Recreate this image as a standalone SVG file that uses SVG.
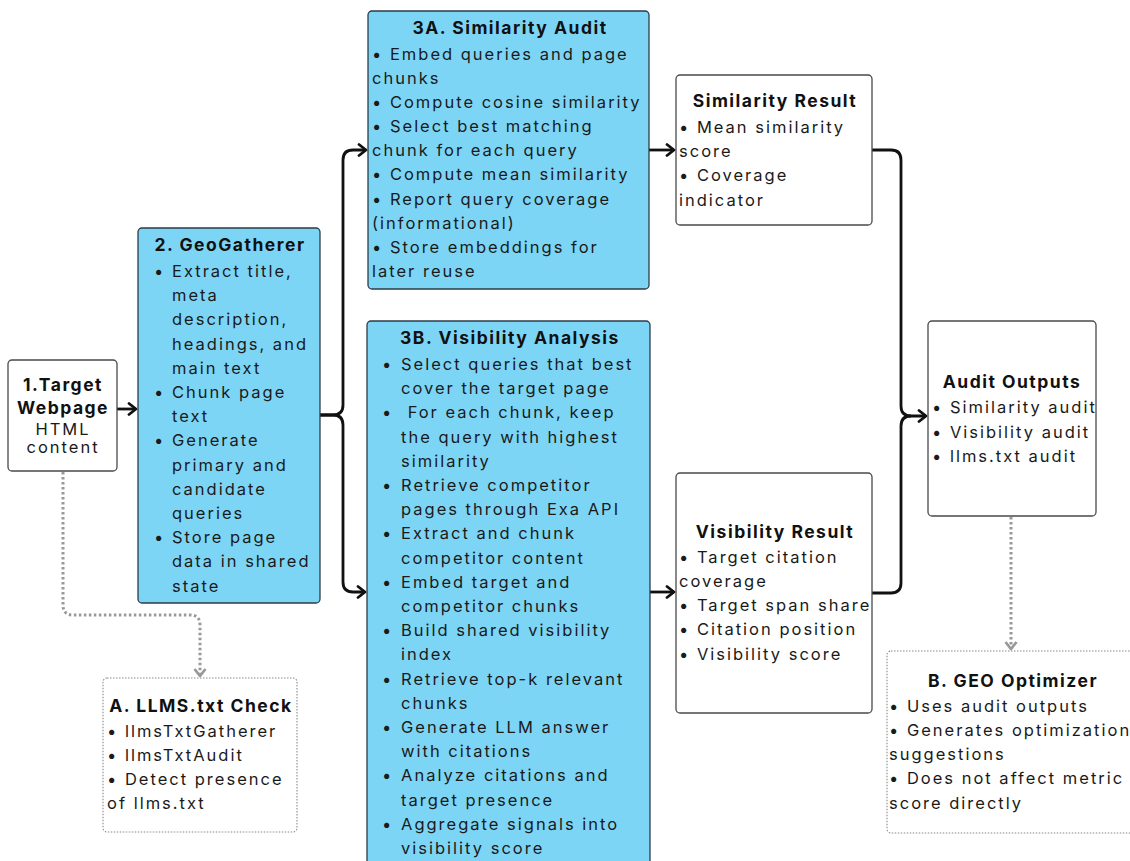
<svg xmlns="http://www.w3.org/2000/svg" width="1130" height="861" viewBox="0 0 1130 861">
<defs>
<style>
.t{font-family:Inter,"Liberation Sans",sans-serif;font-size:16.5px;letter-spacing:2px;fill:#1a1a1a}
.b{font-family:Inter,"Liberation Sans",sans-serif;font-size:17.5px;font-weight:700;letter-spacing:1.5px;fill:#111}
.blue{fill:#7dd5f6;stroke:#2b3d48;stroke-width:1.3}
.white{fill:#fff;stroke:#4a4a4a;stroke-width:1.3}
.dot{fill:#fff;stroke:#8a8a8a;stroke-width:1.1;stroke-dasharray:1.5 1.5}
.con{fill:none;stroke:#111;stroke-width:2.8}
.dcon{fill:none;stroke:#999;stroke-width:3;stroke-dasharray:2.5 2.5}
</style>
<marker id="ah" markerUnits="userSpaceOnUse" markerWidth="14" markerHeight="14" refX="9" refY="7" orient="auto">
<path d="M2,1.5 L9,7 L2,12.5" fill="none" stroke="#111" stroke-width="2.8" stroke-linecap="round" stroke-linejoin="round"/>
</marker>
<marker id="gh" markerUnits="userSpaceOnUse" markerWidth="14" markerHeight="14" refX="9" refY="7" orient="auto">
<path d="M2,1.5 L9,7 L2,12.5" fill="none" stroke="#999" stroke-width="2.8" stroke-linejoin="round"/>
</marker>
</defs>

<g id="connectors">
<path class="con" d="M117,409 H136" marker-end="url(#ah)"/>
<path class="con" d="M320,415 H333 Q343,415 343,405 V160 Q343,150 353,150 H366" marker-end="url(#ah)"/>
<path class="con" d="M320,415 H333 Q343,415 343,425 V582 Q343,592 353,592 H365" marker-end="url(#ah)"/>
<path class="con" d="M649,150 H674" marker-end="url(#ah)"/>
<path class="con" d="M650,592 H674" marker-end="url(#ah)"/>
<path class="con" d="M872,150 H891 Q901,150 901,160 V406 Q901,416 911,416 H926" marker-end="url(#ah)"/>
<path class="con" d="M872,593 H891 Q901,593 901,583 V426 Q901,416 911,416"/>
<path class="dcon" d="M63,472 V605 Q63,615 73,615 H190 Q200,615 200,625 V676" marker-end="url(#gh)"/>
<path class="dcon" d="M1011,517 V649" marker-end="url(#gh)"/>
</g>

<g id="n1">
<rect class="white" x="8" y="360" width="109" height="111" rx="4"/>
<text class="b" x="63" y="391" text-anchor="middle">1.Target</text>
<text class="b" x="63" y="414" text-anchor="middle">Webpage</text>
<text class="t" x="63" y="435" text-anchor="middle">HTML</text>
<text class="t" x="63" y="453" text-anchor="middle">content</text>
</g>

<g id="n2">
<rect class="blue" x="138" y="228" width="182" height="375" rx="4"/>
<text class="b" x="230" y="251" text-anchor="middle">2. GeoGatherer</text>
<text class="t" x="154" y="277">•</text>
<text class="t" x="154" y="398">•</text>
<text class="t" x="154" y="446.4">•</text>
<text class="t" x="154" y="543.2">•</text>
<text class="t" x="172" y="277">Extract title,</text>
<text class="t" x="172" y="301.2">meta</text>
<text class="t" x="172" y="325.4">description,</text>
<text class="t" x="172" y="349.6">headings, and</text>
<text class="t" x="172" y="373.8">main text</text>
<text class="t" x="172" y="398">Chunk page</text>
<text class="t" x="172" y="422.2">text</text>
<text class="t" x="172" y="446.4">Generate</text>
<text class="t" x="172" y="470.6">primary and</text>
<text class="t" x="172" y="494.8">candidate</text>
<text class="t" x="172" y="519">queries</text>
<text class="t" x="172" y="543.2">Store page</text>
<text class="t" x="172" y="567.4">data in shared</text>
<text class="t" x="172" y="591.6">state</text>
</g>

<g id="n3a">
<rect class="blue" x="368" y="11" width="281" height="278" rx="4"/>
<text class="b" x="510" y="34" text-anchor="middle">3A. Similarity Audit</text>
<text class="t" x="372" y="59.5">• Embed queries and page</text>
<text class="t" x="372" y="83.7">chunks</text>
<text class="t" x="372" y="107.8">• Compute cosine similarity</text>
<text class="t" x="372" y="132">• Select best matching</text>
<text class="t" x="372" y="156.2">chunk for each query</text>
<text class="t" x="372" y="180.3">• Compute mean similarity</text>
<text class="t" x="372" y="204.5">• Report query coverage</text>
<text class="t" x="372" y="228.6">(informational)</text>
<text class="t" x="372" y="252.8">• Store embeddings for</text>
<text class="t" x="372" y="277">later reuse</text>
</g>

<g id="n3b">
<rect class="blue" x="367" y="321" width="283" height="560" rx="4"/>
<text class="b" x="510" y="344" text-anchor="middle">3B. Visibility Analysis</text>
<text class="t" x="382" y="370">•</text>
<text class="t" x="382" y="418.4">•</text>
<text class="t" x="382" y="491">•</text>
<text class="t" x="382" y="539.4">•</text>
<text class="t" x="382" y="587.8">•</text>
<text class="t" x="382" y="636.2">•</text>
<text class="t" x="382" y="684.6">•</text>
<text class="t" x="382" y="733">•</text>
<text class="t" x="382" y="781.4">•</text>
<text class="t" x="382" y="829.8">•</text>
<text class="t" x="401" y="370">Select queries that best</text>
<text class="t" x="401" y="394.2">cover the target page</text>
<text class="t" x="401" y="418.4" xml:space="preserve"> For each chunk, keep</text>
<text class="t" x="401" y="442.6">the query with highest</text>
<text class="t" x="401" y="466.8">similarity</text>
<text class="t" x="401" y="491">Retrieve competitor</text>
<text class="t" x="401" y="515.2">pages through Exa API</text>
<text class="t" x="401" y="539.4">Extract and chunk</text>
<text class="t" x="401" y="563.6">competitor content</text>
<text class="t" x="401" y="587.8">Embed target and</text>
<text class="t" x="401" y="612">competitor chunks</text>
<text class="t" x="401" y="636.2">Build shared visibility</text>
<text class="t" x="401" y="660.4">index</text>
<text class="t" x="401" y="684.6">Retrieve top-k relevant</text>
<text class="t" x="401" y="708.8">chunks</text>
<text class="t" x="401" y="733">Generate LLM answer</text>
<text class="t" x="401" y="757.2">with citations</text>
<text class="t" x="401" y="781.4">Analyze citations and</text>
<text class="t" x="401" y="805.6">target presence</text>
<text class="t" x="401" y="829.8">Aggregate signals into</text>
<text class="t" x="401" y="854">visibility score</text>
</g>

<g id="simres">
<rect class="white" x="676" y="75" width="196" height="150" rx="4"/>
<text class="b" x="775" y="107" text-anchor="middle">Similarity Result</text>
<text class="t" x="679" y="133">• Mean similarity</text>
<text class="t" x="679" y="157.2">score</text>
<text class="t" x="679" y="181.4">• Coverage</text>
<text class="t" x="679" y="205.6">indicator</text>
</g>

<g id="visres">
<rect class="white" x="676" y="473" width="196" height="240" rx="4"/>
<text class="b" x="775" y="537.5" text-anchor="middle">Visibility Result</text>
<text class="t" x="679" y="562.7">• Target citation</text>
<text class="t" x="679" y="586.9">coverage</text>
<text class="t" x="679" y="611.1">• Target span share</text>
<text class="t" x="679" y="635.3">• Citation position</text>
<text class="t" x="679" y="659.5">• Visibility score</text>
</g>

<g id="audit">
<rect class="white" x="928" y="321" width="168" height="195" rx="4"/>
<text class="b" x="1012" y="388.3" text-anchor="middle">Audit Outputs</text>
<text class="t" x="932" y="413.3">• Similarity audit</text>
<text class="t" x="932" y="437.5">• Visibility audit</text>
<text class="t" x="932" y="461.7">• llms.txt audit</text>
</g>

<g id="geo">
<rect class="dot" x="887" y="651" width="270" height="182" rx="4"/>
<text class="b" x="1013" y="686.7" text-anchor="middle">B. GEO Optimizer</text>
<text class="t" x="889" y="711.7">• Uses audit outputs</text>
<text class="t" x="889" y="735.9">• Generates optimization</text>
<text class="t" x="889" y="760.1">suggestions</text>
<text class="t" x="889" y="784.3">• Does not affect metric</text>
<text class="t" x="889" y="808.5">score directly</text>
</g>

<g id="llms">
<rect class="dot" x="103" y="678" width="194" height="154" rx="4"/>
<text class="b" x="201" y="711.7" text-anchor="middle">A. LLMS.txt Check</text>
<text class="t" x="107" y="736.7">• llmsTxtGatherer</text>
<text class="t" x="107" y="760.9">• llmsTxtAudit</text>
<text class="t" x="107" y="785.1">• Detect presence</text>
<text class="t" x="107" y="809.3">of llms.txt</text>
</g>
</svg>
